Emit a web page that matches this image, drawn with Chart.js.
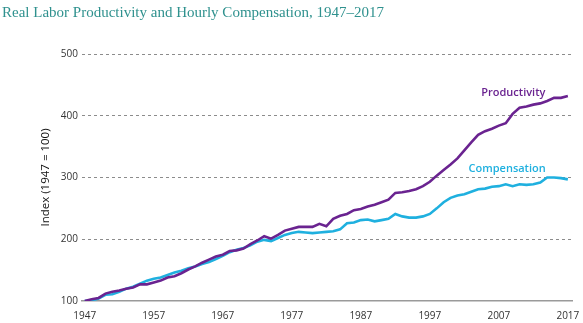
<!DOCTYPE html>
<html>
<head>
<meta charset="utf-8">
<script src="https://cdn.jsdelivr.net/npm/chart.js@4.4.0/dist/chart.umd.min.js"></script>
<style>
  html, body { margin: 0; padding: 0; background: #fff; }
  #wrap { width: 583px; height: 323px; position: relative; }
</style>
</head>
<body>
<div id="wrap"><canvas id="chart"></canvas></div>
<script>
// Years 1947..2017
const years = [];
for (let y = 1947; y <= 2017; y++) years.push(y);

const yearTicks = [1947, 1957, 1967, 1977, 1987, 1997, 2007, 2017];
const valueTicks = [100, 200, 300, 400, 500];

// Index values (1947 = 100)
const productivity = [
  100, 103, 105, 112, 115, 117, 120, 122, 127, 127,
  130, 133, 138, 140, 145, 151, 156, 162, 167, 172,
  175, 181, 182, 185, 192, 198, 205, 201, 207, 214,
  217, 220, 220, 220, 225, 221, 233, 238, 241, 247,
  249, 253, 256, 260, 264, 275, 276, 278, 281, 286,
  293, 303, 312, 321, 331, 344, 357, 369, 375, 379,
  384, 388, 403, 413, 415, 418, 420, 424, 429, 429, 432
];

const compensation = [
  100, 101, 104, 110, 111, 115, 120, 123, 128, 133,
  136, 138, 142, 146, 149, 153, 156, 160, 163, 168,
  173, 179, 183, 186, 190, 196, 199, 197, 202, 207,
  210, 212, 211, 210, 211, 212, 213, 216, 226, 227,
  231, 232, 229, 231, 233, 241, 237, 235, 235, 237,
  241, 250, 260, 267, 271, 273, 277, 281, 282, 285,
  286, 289, 286, 289, 288, 289, 292, 300, 300, 299, 297
];

const PURPLE = '#6a2390';
const CYAN = '#1fb0df';

const toPoints = vals => vals.map((v, i) => ({ x: years[i], y: v }));

// series name labels placed in data coordinates
const seriesLabels = [
  { text: 'Productivity', x: 2009.1, y: 437, color: PURPLE },
  { text: 'Compensation', x: 2008.2, y: 314, color: CYAN }
];

const labelPlugin = {
  id: 'seriesLabels',
  afterDatasetsDraw(chart) {
    const ctx = chart.ctx;
    const xs = chart.scales.x, ys = chart.scales.y;
    ctx.save();
    ctx.font = '600 11px "Open Sans", sans-serif';
    ctx.textAlign = 'center';
    ctx.textBaseline = 'middle';
    seriesLabels.forEach(l => {
      ctx.fillStyle = l.color;
      ctx.fillText(l.text, xs.getPixelForValue(l.x), ys.getPixelForValue(l.y));
    });
    ctx.restore();
  }
};

new Chart(document.getElementById('chart'), {
  type: 'line',
  data: {
    datasets: [
      {
        label: 'Productivity',
        data: toPoints(productivity),
        borderColor: PURPLE,
        borderWidth: 2.6,
        pointRadius: 0,
        tension: 0
      },
      {
        label: 'Compensation',
        data: toPoints(compensation),
        borderColor: CYAN,
        borderWidth: 2.6,
        pointRadius: 0,
        tension: 0
      }
    ]
  },
  options: {
    responsive: true,
    maintainAspectRatio: false,
    animation: false,
    layout: { padding: { left: 2, right: 11, top: 4, bottom: 0 } },
    plugins: {
      legend: { display: false },
      tooltip: { enabled: false },
      title: {
        display: true,
        text: 'Real Labor Productivity and Hourly Compensation, 1947\u20132017',
        align: 'start',
        color: '#2f918e',
        font: { family: '"Liberation Serif", serif', size: 15, weight: 'normal' },
        padding: { top: 0, bottom: 32 }
      }
    },
    scales: {
      x: {
        type: 'linear',
        min: 1946.6,
        max: 2017.6,
        afterBuildTicks: s => { s.ticks = yearTicks.map(v => ({ value: v })); },
        grid: { display: false },
        border: { display: true, color: '#9a9a9a', width: 1.5 },
        ticks: {
          color: '#333',
          font: { family: '"Open Sans", sans-serif', size: 10 },
          padding: 1,
          maxRotation: 0,
          autoSkip: false,
          callback: v => String(v)
        }
      },
      y: {
        min: 100,
        max: 500,
        afterBuildTicks: s => { s.ticks = valueTicks.map(v => ({ value: v })); },
        afterFit: s => { s.width = 80; },
        grid: {
          color: ctx => ctx.tick && ctx.tick.value === 100 ? 'rgba(0,0,0,0)' : '#8c8c8c',
          lineWidth: 1,
          drawTicks: false
        },
        border: { display: false, dash: [3, 3] },
        ticks: {
          color: '#333',
          font: { family: '"Open Sans", sans-serif', size: 10 },
          padding: 4
        },
        title: {
          display: true,
          text: 'Index (1947 = 100)',
          color: '#111',
          font: { family: '"Open Sans", sans-serif', size: 11.5 },
          padding: { top: 37, bottom: 0 }
        }
      }
    }
  },
  plugins: [labelPlugin]
});
</script>
</body>
</html>
